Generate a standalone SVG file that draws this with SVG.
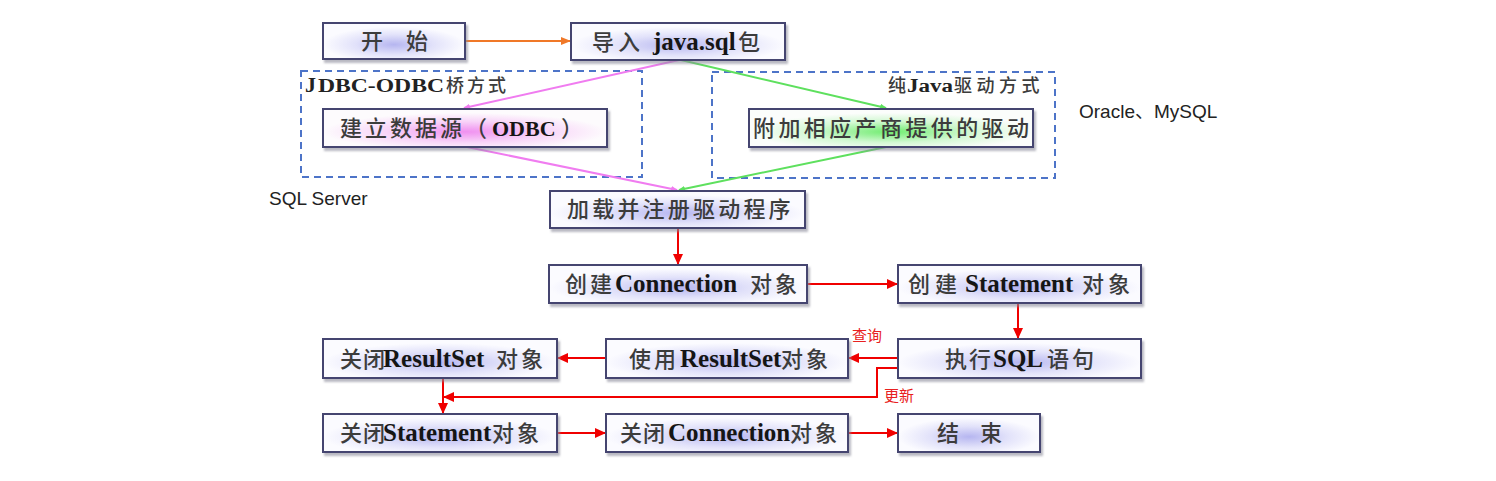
<svg xmlns="http://www.w3.org/2000/svg" width="1496" height="481" viewBox="0 0 1496 481">
<style>
.box{stroke:#45456f;stroke-width:2;filter:url(#sh)}
.bl{fill:url(#gb)}
.pk{fill:url(#gp)}
.gr{fill:url(#gg)}
.dash{fill:none;stroke:#4d74c8;stroke-width:2;stroke-dasharray:7 5}
.c{font-family:"Noto Sans CJK SC","Noto Sans",sans-serif;font-size:22px;fill:#3c3c3c;font-weight:500;letter-spacing:3px}
.l{font-family:"Liberation Serif",serif;font-weight:bold;font-size:25px;fill:#151515;letter-spacing:0}
.cs{font-family:"Noto Sans CJK SC",sans-serif;font-size:18px;fill:#3c3c3c;font-weight:500}
.ls{font-family:"Liberation Serif",serif;font-weight:bold;font-size:18px;fill:#222}
.note{font-family:"Liberation Sans","Noto Sans CJK SC",sans-serif;font-size:19px;fill:#222}
.red{font-family:"Noto Sans CJK SC",sans-serif;font-size:15px;fill:#e82020}
.rl{fill:none;stroke:#f00000;stroke-width:2;marker-end:url(#ar)}
</style>
<defs>
<filter id="sh" x="-10%" y="-20%" width="120%" height="150%">
<feDropShadow dx="2" dy="3" stdDeviation="1.2" flood-color="#8a8a9a" flood-opacity="0.6"/>
</filter>
<radialGradient id="gb" cx="0.5" cy="0.6" r="0.5">
<stop offset="0" stop-color="#b6b6f0"/>
<stop offset="0.55" stop-color="#e2e2fa"/>
<stop offset="1" stop-color="#fbfbff"/>
</radialGradient>
<radialGradient id="gp" cx="0.5" cy="0.6" r="0.5">
<stop offset="0" stop-color="#f090f0"/>
<stop offset="0.55" stop-color="#f8d4f8"/>
<stop offset="1" stop-color="#fdfbfd"/>
</radialGradient>
<radialGradient id="gg" cx="0.5" cy="0.6" r="0.5">
<stop offset="0" stop-color="#70ec70"/>
<stop offset="0.55" stop-color="#d2f8d2"/>
<stop offset="1" stop-color="#fbfdfb"/>
</radialGradient>
<marker id="ar" markerUnits="userSpaceOnUse" markerWidth="11" markerHeight="10" refX="10" refY="5" orient="auto">
<path d="M0,0 L11,5 L0,10 z" fill="#f00000"/>
</marker>
<marker id="ao" markerUnits="userSpaceOnUse" markerWidth="10" markerHeight="8" refX="9" refY="4" orient="auto">
<path d="M0,0 L10,4 L0,8 z" fill="#f07828"/>
</marker>
<marker id="ap" markerUnits="userSpaceOnUse" markerWidth="7" markerHeight="6" refX="6" refY="3" orient="auto">
<path d="M0,0 L7,3 L0,6 z" fill="#f07cf0"/>
</marker>
<marker id="ag" markerUnits="userSpaceOnUse" markerWidth="7" markerHeight="6" refX="6" refY="3" orient="auto">
<path d="M0,0 L7,3 L0,6 z" fill="#5ee05e"/>
</marker>
</defs>
<rect width="1496" height="481" fill="#ffffff"/>

<g id="group-jdbc-odbc">
<rect class="dash" x="301" y="71" width="341" height="106"/>
<text y="92"><tspan class="ls" x="305" style="font-size:22px">J</tspan><tspan class="ls" x="318" textLength="126" lengthAdjust="spacingAndGlyphs">DBC-ODBC</tspan><tspan class="cs" x="446" style="letter-spacing:3px">桥方式</tspan></text>
</g>
<g id="group-pure-java">
<rect class="dash" x="712" y="72" width="343" height="106"/>
<text y="92"><tspan class="cs" x="888">纯</tspan><tspan class="ls" x="907" textLength="46" lengthAdjust="spacingAndGlyphs">Java</tspan><tspan class="cs" x="954" style="letter-spacing:4.5px">驱动方式</tspan></text>
</g>

<g id="connectors">
<path d="M465,41 H570" fill="none" stroke="#f07828" stroke-width="2" marker-end="url(#ao)"/>
<path d="M679,60 L464,108" fill="none" stroke="#f07cf0" stroke-width="2" marker-end="url(#ap)"/>
<path d="M467,147 L677,190" fill="none" stroke="#f07cf0" stroke-width="2" marker-end="url(#ap)"/>
<path d="M681,60 L886,108" fill="none" stroke="#5ee05e" stroke-width="2" marker-end="url(#ag)"/>
<path d="M886,147 L679,190" fill="none" stroke="#5ee05e" stroke-width="2" marker-end="url(#ag)"/>
<path class="rl" d="M678,229 V264"/>
<path class="rl" d="M807,284 H897"/>
<path class="rl" d="M1018,304 V338"/>
<path class="rl" d="M897,358 H849"/>
<path class="rl" d="M606,358 H558"/>
<path class="rl" d="M443,379 V413"/>
<path class="rl" d="M897,368 H877 V397 H444"/>
<path class="rl" d="M558,433 H605"/>
<path class="rl" d="M849,433 H897"/>
<text class="red" x="852" y="341">查询</text>
<text class="red" x="884" y="401">更新</text>
</g>

<g id="node-start">
<rect class="box bl" x="323" y="23" width="142" height="36"/>
<text y="49"><tspan class="c" x="361">开</tspan><tspan class="c" x="406">始</tspan></text>
</g>
<g id="node-import">
<rect class="box bl" x="571" y="23" width="214" height="37"/>
<text y="50"><tspan class="c" x="592" style="letter-spacing:4px">导入</tspan><tspan class="l" x="653">java.sql</tspan><tspan class="c" x="738">包</tspan></text>
</g>
<g id="node-odbc">
<rect class="box pk" x="323" y="109" width="284" height="38"/>
<text y="136"><tspan class="c" x="340">建立数据源（</tspan><tspan class="l" x="492" style="font-size:22px">ODBC</tspan><tspan class="c" x="561">）</tspan></text>
</g>
<g id="node-vendor">
<rect class="box gr" x="749" y="109" width="284" height="38"/>
<text y="136"><tspan class="c" x="753" style="letter-spacing:3.4px">附加相应产商提供的驱动</tspan></text>
</g>
<g id="node-load">
<rect class="box bl" x="550" y="191" width="255" height="37"/>
<text y="217"><tspan class="c" x="567" style="letter-spacing:3.2px">加载并注册驱动程序</tspan></text>
</g>
<g id="node-create-conn">
<rect class="box bl" x="549" y="265" width="258" height="38"/>
<text y="292"><tspan class="c" x="565">创建</tspan><tspan class="l" x="615">Connection</tspan><tspan class="c" x="750">对象</tspan></text>
</g>
<g id="node-create-stmt">
<rect class="box bl" x="898" y="265" width="243" height="38"/>
<text y="292"><tspan class="c" x="908" style="letter-spacing:5px">创建</tspan><tspan class="l" x="965">Statement</tspan><tspan class="c" x="1082" style="letter-spacing:4px">对象</tspan></text>
</g>
<g id="node-exec">
<rect class="box bl" x="898" y="339" width="243" height="39"/>
<text y="367"><tspan class="c" x="945" style="letter-spacing:2px">执行</tspan><tspan class="l" x="993">SQL</tspan><tspan class="c" x="1047">语句</tspan></text>
</g>
<g id="node-use-rs">
<rect class="box bl" x="606" y="339" width="242" height="39"/>
<text y="367"><tspan class="c" x="629">使用</tspan><tspan class="l" x="680">ResultSet</tspan><tspan class="c" x="781">对象</tspan></text>
</g>
<g id="node-close-rs">
<rect class="box bl" x="323" y="339" width="234" height="39"/>
<text y="367"><tspan class="c" x="340" style="letter-spacing:1px">关闭</tspan><tspan class="l" x="383">ResultSet</tspan><tspan class="c" x="496">对象</tspan></text>
</g>
<g id="node-close-stmt">
<rect class="box bl" x="323" y="414" width="234" height="38"/>
<text y="441"><tspan class="c" x="340" style="letter-spacing:1px">关闭</tspan><tspan class="l" x="383">Statement</tspan><tspan class="c" x="492">对象</tspan></text>
</g>
<g id="node-close-conn">
<rect class="box bl" x="606" y="414" width="242" height="38"/>
<text y="441"><tspan class="c" x="620" style="letter-spacing:1px">关闭</tspan><tspan class="l" x="668">Connection</tspan><tspan class="c" x="790">对象</tspan></text>
</g>
<g id="node-end">
<rect class="box bl" x="898" y="414" width="142" height="38"/>
<text y="441"><tspan class="c" x="937">结</tspan><tspan class="c" x="980">束</tspan></text>
</g>

<text class="note" x="1079" y="118">Oracle、MySQL</text>
<text class="note" x="269" y="205">SQL Server</text>
</svg>
